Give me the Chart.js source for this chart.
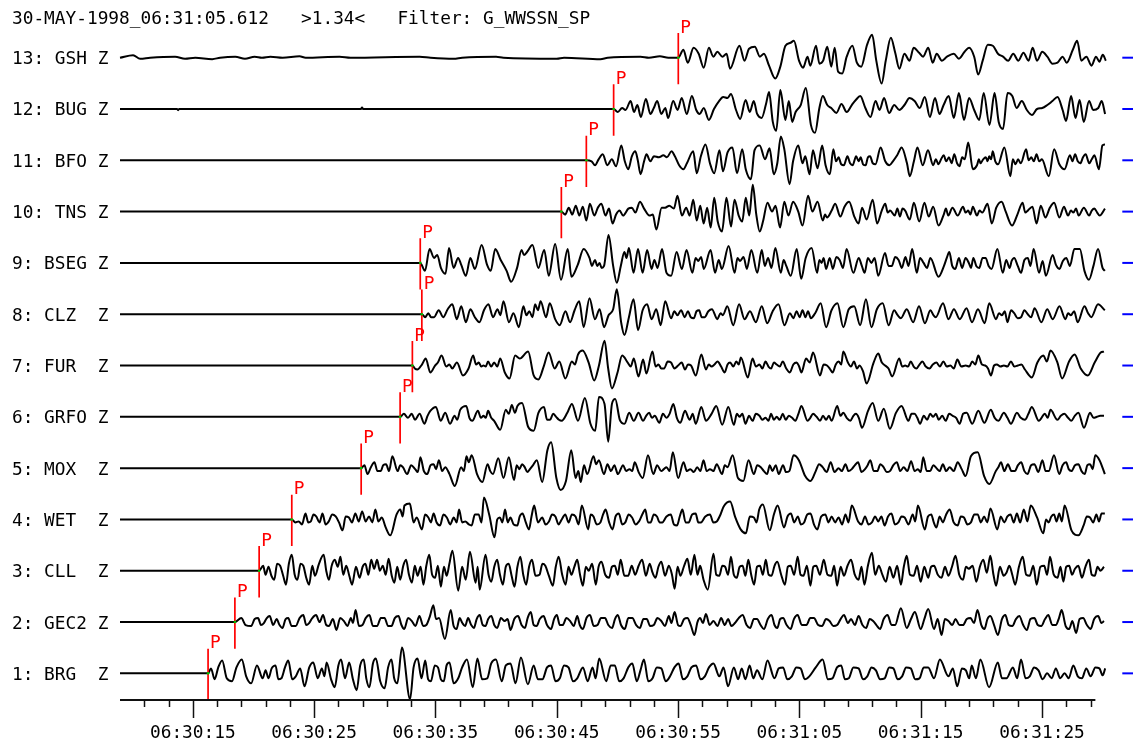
<!DOCTYPE html>
<html><head><meta charset="utf-8">
<script src="https://cdn.jsdelivr.net/npm/chart.js@4.4.1/dist/chart.umd.min.js"></script>
<style>html,body{margin:0;padding:0;background:#fff;}canvas{display:block;}</style>
</head><body>
<canvas id="c" width="1133" height="747"></canvas>
<script>
// ---------- header / labels ----------
const titleText = '30-MAY-1998_06:31:05.612   >1.34<   Filter: G_WWSSN_SP';
const traceNumbers = [1,2,3,4,5,6,7,8,9,10,11,12,13];
const stationNames = ['BRG','GEC2','CLL','WET','MOX','GRFO','FUR','CLZ','BSEG','TNS','BFO','BUG','GSH'];
const componentName = 'Z';
const pickLabel = 'P';
// P arrival picks, seconds after 06:30:00
const pickTimes = [16.26,18.47,20.47,23.16,28.88,32.09,33.10,33.88,33.75,45.38,47.44,49.69,55.02];
// time axis (seconds after 06:30:00)
const timeStart = 9.0;     // start of records / axis
const axisEnd = 89.4;      // end of drawn time axis
const recordEnd = 90.3;    // end of records
const tickSeconds = [11,13,15,17,19,21,23,25,27,29,31,33,35,37,39,41,43,45,47,49,51,53,55,57,59,61,63,65,67,69,71,73,75,77,79,81,83,85,87,89];
const labelSeconds = [15,25,35,45,55,65,75,85];
const GAIN = 51.6; // amplitude counts per trace spacing

// ---------- pre-arrival noise (time, amplitude) ----------
const GSH_pre = [10.08,2.5, 10.66,-1, 11.48,0, 13.54,1, 14.36,-1, 15.2,0, 16.6,-1.5, 17.25,0, 18.5,1, 19.3,-1, 20.1,1, 20.7,0, 21.4,1, 22.4,0, 23.8,1.5, 24.3,0, 27.1,1, 28.0,0, 33.7,1, 34.6,0, 36.5,-1, 37.2,0, 40.0,1, 40.6,0, 45.0,-1, 45.6,0, 48.6,-1.5, 49.2,0, 51.9,1, 52.6,0, 53.5,1.5, 54.2,0];
const BUG_pre = [13.7,0, 13.79,-1.2, 13.88,0, 28.86,0, 28.95,1.5, 29.04,0];

// ---------- waveforms after P (time, amplitude) ----------
const BRG = [16.50,5, 16.80,-6, 17.10,6, 17.42,13, 17.80,-5, 18.23,-8, 18.60,6, 19.04,14, 19.40,-3, 19.81,-10, 20.29,8, 20.76,-5, 21.00,3, 21.24,-5, 21.50,5, 21.82,8, 22.05,-6, 22.30,-5, 22.60,6, 22.87,13, 23.20,-6, 23.49,-3, 23.85,5, 24.21,-13, 24.60,6, 24.93,11, 25.30,-5, 25.64,5, 25.85,-3, 26.03,11, 26.40,-6, 26.70,-14, 27.00,8, 27.22,14, 27.55,-5, 27.89,11, 28.20,-6, 28.51,-17, 28.80,8, 29.09,14, 29.30,-5, 29.56,-14, 29.85,10, 30.09,15, 30.45,-8, 30.81,-15, 31.10,6, 31.38,14, 31.60,-5, 31.86,-10, 32.24,26, 32.91,-26, 33.20,6, 33.53,15, 33.85,-5, 34.16,13, 34.40,-6, 34.63,-8, 34.95,8, 35.21,6, 35.45,-6, 35.69,-8, 35.92,8, 36.16,11, 36.50,-10, 36.88,-5, 37.20,6, 37.60,14, 38.08,-14, 38.46,15, 38.85,-6, 39.27,-5, 39.60,10, 39.99,14, 40.47,-8, 40.80,8, 41.19,10, 41.60,-10, 42.05,16, 42.62,-11, 43.10,8, 43.45,-6, 43.82,-6, 44.20,6, 44.53,8, 44.90,-8, 45.25,-5, 45.60,8, 45.97,6, 46.35,-8, 46.69,-5, 47.16,6, 47.55,-8, 47.95,6, 48.20,-5, 48.50,15, 49.08,-8, 49.45,8, 49.79,8, 50.15,-8, 50.51,-5, 50.90,6, 51.23,10, 51.60,-8, 51.90,3, 52.19,14, 52.55,-8, 52.90,-5, 53.25,6, 53.62,5, 53.98,-8, 54.34,-3, 54.70,6, 55.05,10, 55.40,-6, 55.77,-3, 56.10,6, 56.49,8, 56.85,-6, 57.21,-3, 57.55,6, 57.92,10, 58.40,-3, 58.75,6, 59.12,-13, 59.60,6, 59.95,-6, 60.25,5, 60.55,-6, 60.90,8, 61.20,-5, 61.51,3, 61.95,-6, 62.37,13, 62.95,-5, 63.30,5, 63.66,6, 64.00,-6, 64.38,-3, 64.75,6, 65.10,5, 65.45,-6, 65.82,-3, 66.35,6, 66.92,14, 67.35,-6, 67.73,-5, 68.10,6, 68.45,8, 68.75,-6, 69.07,-5, 69.45,6, 69.88,5, 70.25,-6, 70.60,-3, 70.95,6, 71.31,3, 71.65,-6, 72.03,-5, 72.40,6, 72.75,5, 73.10,-6, 73.47,-3, 73.80,6, 74.18,5, 74.55,-6, 74.90,-5, 75.25,6, 75.62,6, 76.10,-5, 76.58,14, 77.29,-3, 77.65,5, 78.01,-13, 78.40,5, 78.73,3, 79.00,-5, 79.21,8, 79.55,-5, 79.92,14, 80.64,-14, 81.36,11, 81.70,-5, 82.07,-5, 82.60,6, 82.95,-5, 83.27,14, 83.65,-5, 83.99,-3, 84.35,6, 84.71,3, 85.05,-6, 85.42,0, 85.80,-5, 86.14,5, 86.50,-5, 86.86,0, 87.20,-5, 87.58,8, 87.95,-3, 88.29,-5, 88.65,5, 89.01,-3, 89.40,6, 89.73,5, 90.00,-2, 90.21,5];
const GEC2 = [19.00,4, 19.35,-3, 19.81,-4, 20.10,3, 20.38,4, 20.62,-3, 20.86,-1, 21.10,4, 21.34,6, 21.62,-3, 21.91,3, 22.15,-3, 22.39,-6, 22.65,3, 22.87,4, 23.15,-4, 23.49,-4, 23.80,4, 24.11,7, 24.35,-3, 24.59,-1, 24.85,4, 25.16,7, 25.45,0, 25.74,7, 26.00,-3, 26.22,-4, 26.55,3, 26.84,-8, 27.15,4, 27.46,1, 27.75,-4, 28.03,4, 28.20,-1, 28.42,12, 28.70,-4, 28.99,-3, 29.25,4, 29.56,7, 29.85,-4, 30.19,-4, 30.50,4, 30.81,4, 31.10,-4, 31.38,-4, 31.65,4, 31.96,6, 32.20,-3, 32.43,-7, 32.75,4, 33.06,1, 33.35,-4, 33.68,6, 34.00,-4, 34.25,-3, 34.55,6, 34.83,17, 35.05,3, 35.30,4, 35.78,-17, 36.26,12, 36.50,-4, 36.74,-7, 37.00,4, 37.22,-1, 37.45,-4, 37.69,4, 37.95,-3, 38.17,-6, 38.40,3, 38.65,7, 38.90,-3, 39.13,-4, 39.35,3, 39.61,6, 39.85,-3, 40.09,-6, 40.40,4, 40.71,1, 40.95,3, 41.19,-8, 41.50,3, 41.81,6, 42.10,-3, 42.38,-6, 42.60,4, 42.86,10, 43.10,-3, 43.34,-4, 43.60,3, 43.91,6, 44.20,-3, 44.53,-7, 44.78,3, 45.01,7, 45.25,-3, 45.49,-3, 45.80,4, 46.11,1, 46.40,-4, 46.69,6, 46.90,-3, 47.16,-7, 47.45,4, 47.74,7, 48.05,-4, 48.36,-3, 48.65,4, 48.98,4, 49.25,-3, 49.56,-6, 49.80,3, 50.03,7, 50.30,-3, 50.61,-7, 50.90,4, 51.23,4, 51.55,-3, 51.85,-6, 52.15,3, 52.42,3, 52.70,-4, 53.00,-3, 53.30,4, 53.62,1, 53.92,-4, 54.24,6, 54.45,-1, 54.72,10, 55.00,-3, 55.20,-4, 55.50,3, 55.77,4, 56.05,-3, 56.35,-13, 56.60,0, 56.82,4, 57.05,-1, 57.30,8, 57.60,-3, 57.92,1, 58.25,-4, 58.55,4, 58.85,-3, 59.12,3, 59.40,-4, 59.69,-1, 60.00,4, 60.32,7, 60.65,-3, 60.94,-6, 61.25,3, 61.51,3, 61.80,-3, 62.08,-7, 62.40,3, 62.71,7, 62.95,-3, 63.18,-6, 63.42,3, 63.66,4, 63.95,-3, 64.28,-7, 64.55,3, 64.86,7, 65.20,-3, 65.58,-3, 65.90,4, 66.20,4, 66.55,-3, 66.87,-4, 67.20,3, 67.49,1, 67.80,-4, 68.11,-3, 68.40,3, 68.68,7, 69.00,-1, 69.26,3, 69.58,-3, 69.88,6, 70.20,-3, 70.50,-6, 70.80,3, 71.08,1, 71.35,-3, 71.65,-7, 71.95,3, 72.27,7, 72.60,-3, 72.89,-3, 73.37,14, 73.85,-6, 74.20,3, 74.52,10, 75.00,-7, 75.30,3, 75.62,13, 76.10,-7, 76.40,3, 76.72,-13, 77.00,3, 77.29,1, 77.60,-3, 77.87,3, 78.20,-3, 78.49,-3, 78.80,3, 79.11,4, 79.40,-1, 79.68,12, 80.00,-3, 80.26,-7, 80.50,3, 80.74,6, 81.05,-3, 81.36,-13, 81.70,3, 81.98,7, 82.25,-3, 82.55,-4, 82.85,3, 83.13,6, 83.45,-3, 83.75,-8, 84.05,3, 84.37,4, 84.65,-3, 84.94,-4, 85.25,3, 85.52,7, 85.85,-3, 86.14,-3, 86.40,4, 86.62,12, 86.95,-4, 87.24,-7, 87.50,1, 87.81,-11, 88.10,3, 88.39,4, 88.70,-3, 89.01,-7, 89.30,3, 89.63,6, 89.90,-1, 90.11,1];
const CLL = [20.80,5, 21.00,-4, 21.24,4, 21.48,-5, 21.72,-9, 21.95,7, 22.20,5, 22.45,-5, 22.68,-14, 22.92,7, 23.16,16, 23.40,-4, 23.63,-9, 23.88,7, 24.11,5, 24.35,-7, 24.59,-14, 24.85,5, 25.07,-5, 25.40,7, 25.79,16, 26.00,0, 26.22,-9, 26.45,5, 26.70,11, 26.95,4, 27.17,14, 27.40,-4, 27.65,5, 27.90,-5, 28.13,-14, 28.45,4, 28.75,-7, 29.00,4, 29.23,7, 29.47,-4, 29.71,11, 29.95,2, 30.19,11, 30.42,0, 30.66,5, 30.90,-4, 31.14,12, 31.40,-5, 31.62,-12, 31.85,4, 32.10,-9, 32.35,5, 32.58,11, 32.82,-4, 33.06,-12, 33.30,5, 33.53,-5, 33.78,4, 34.01,-14, 34.25,5, 34.49,16, 34.73,-4, 34.97,-7, 35.20,5, 35.45,-16, 35.70,4, 35.93,-5, 36.15,7, 36.40,20, 36.88,-20, 37.20,4, 37.50,-9, 37.84,19, 38.32,-12, 38.48,4, 38.65,-19, 39.13,16, 39.38,-4, 39.61,-11, 39.85,4, 40.09,11, 40.32,-4, 40.56,-14, 40.80,4, 41.04,7, 41.28,-5, 41.52,-16, 41.76,4, 42.00,14, 42.24,-4, 42.48,-14, 42.72,4, 42.96,11, 43.25,-5, 43.58,-4, 43.82,7, 44.06,5, 44.35,-5, 44.68,-15, 44.92,4, 45.16,14, 45.45,-4, 45.73,-14, 45.97,4, 46.21,-4, 46.45,4, 46.69,11, 46.92,-4, 47.16,-15, 47.40,4, 47.64,0, 47.92,7, 48.22,-14, 48.45,4, 48.69,9, 49.00,-4, 49.32,-7, 49.55,4, 49.79,5, 50.03,-4, 50.27,11, 50.58,-5, 50.89,-5, 51.18,5, 51.47,-4, 51.75,5, 52.04,11, 52.35,-5, 52.66,7, 52.90,-2, 53.14,-7, 53.38,4, 53.62,9, 53.93,-5, 54.24,5, 54.50,-4, 54.72,-18, 54.96,4, 55.20,-5, 55.50,5, 55.77,12, 56.05,-4, 56.35,16, 56.60,-4, 56.82,5, 57.10,-9, 57.45,-19, 57.92,17, 58.15,-4, 58.40,-5, 58.65,5, 58.88,4, 59.12,-4, 59.36,14, 59.60,-4, 59.84,-7, 60.08,4, 60.32,5, 60.55,-5, 60.79,11, 61.03,-4, 61.27,-14, 61.51,4, 61.75,5, 61.99,-4, 62.23,11, 62.47,-4, 62.71,-5, 62.95,5, 63.18,9, 63.50,-4, 63.81,-14, 64.05,4, 64.28,5, 64.57,-4, 64.86,14, 65.10,-4, 65.34,-5, 65.62,5, 65.91,-15, 66.15,4, 66.39,5, 66.70,-4, 67.01,11, 67.32,-4, 67.63,-5, 67.87,5, 68.11,-15, 68.40,4, 68.68,-5, 68.97,5, 69.26,11, 69.57,-4, 69.88,-9, 70.12,4, 70.36,-14, 70.65,5, 70.98,18, 71.25,-4, 71.55,5, 71.84,-4, 72.13,-11, 72.44,4, 72.75,-7, 73.06,5, 73.37,-14, 73.61,4, 73.85,15, 74.12,-4, 74.42,-5, 74.70,5, 75.00,-11, 75.30,4, 75.62,-7, 75.86,4, 76.10,5, 76.41,-4, 76.72,-7, 77.00,4, 77.29,-5, 77.58,4, 77.87,15, 78.18,-4, 78.49,-9, 78.73,4, 78.97,2, 79.28,5, 79.59,-11, 79.88,4, 80.16,11, 80.45,-2, 80.74,15, 81.00,-4, 81.22,-15, 81.53,4, 81.84,-5, 82.07,-2, 82.31,5, 82.55,-4, 82.79,-14, 83.10,4, 83.41,14, 83.70,-4, 83.99,-5, 84.28,5, 84.56,-14, 84.87,4, 85.18,5, 85.42,-4, 85.66,14, 85.97,-4, 86.28,-7, 86.52,4, 86.76,-11, 87.00,4, 87.24,5, 87.48,-4, 87.72,2, 88.00,5, 88.29,-7, 88.58,4, 88.87,11, 89.10,-4, 89.35,-5, 89.58,4, 89.82,0, 90.11,4];
const WET = [23.45,-3, 23.73,-2, 24.00,-5, 24.29,6, 24.52,-3, 24.73,-2, 24.95,5, 25.17,3, 25.45,-3, 25.69,6, 25.95,-5, 26.21,-2, 26.50,5, 26.78,3, 27.05,-3, 27.35,-11, 27.60,3, 27.87,2, 28.12,-3, 28.40,6, 28.68,-2, 28.96,8, 29.25,-2, 29.53,3, 29.80,-3, 30.05,10, 30.30,-2, 30.58,2, 30.90,-8, 31.28,-16, 31.80,5, 32.10,10, 32.30,3, 32.45,14, 32.89,16, 33.20,-3, 33.46,2, 33.89,-10, 34.15,5, 34.42,2, 34.62,-3, 34.85,6, 35.10,-3, 35.38,-6, 35.66,5, 35.94,2, 36.22,-5, 36.51,2, 36.75,-3, 36.95,10, 37.20,-3, 37.47,-2, 37.75,-5, 37.99,-6, 38.25,5, 38.56,5, 38.80,-3, 39.00,22, 39.43,5, 39.87,-18, 40.10,0, 40.31,2, 40.52,-3, 40.74,10, 40.96,-3, 41.18,2, 41.45,-5, 41.75,-6, 41.95,3, 42.18,6, 42.45,-3, 42.71,-10, 42.92,3, 43.14,14, 43.45,-3, 43.80,2, 44.08,-5, 44.36,-2, 44.62,5, 44.89,3, 45.15,-5, 45.41,0, 45.70,5, 45.98,-3, 46.25,5, 46.55,3, 46.80,-5, 47.07,14, 47.59,-10, 47.80,5, 48.03,3, 48.30,-5, 48.60,-3, 48.82,5, 49.03,10, 49.32,-3, 49.60,-10, 49.85,3, 50.12,6, 50.40,-5, 50.65,-3, 50.93,5, 51.21,2, 51.50,-5, 51.78,-2, 52.05,5, 52.30,10, 52.52,-3, 52.74,-3, 53.00,5, 53.26,3, 53.48,-3, 53.70,-3, 54.05,3, 54.40,5, 54.66,-5, 54.92,-6, 55.14,3, 55.36,10, 55.62,-3, 55.88,-3, 56.16,5, 56.45,6, 56.67,-3, 56.89,-3, 57.25,3, 57.63,5, 57.91,-3, 58.19,-2, 58.50,5, 58.76,13, 59.29,18, 59.72,2, 60.16,-10, 60.59,-14, 60.92,3, 61.25,2, 61.47,-3, 61.69,10, 61.99,15, 62.56,-11, 62.90,5, 63.21,14, 63.74,-8, 64.02,3, 64.30,6, 64.58,-3, 64.87,3, 65.13,-5, 65.39,-3, 65.65,5, 65.92,6, 66.20,-5, 66.48,-10, 66.80,3, 67.14,5, 67.40,-3, 67.66,3, 67.95,-3, 68.23,2, 68.52,-5, 68.80,5, 69.05,-3, 69.32,14, 69.84,-2, 70.12,-5, 70.41,3, 70.70,-5, 70.98,-3, 71.24,3, 71.50,-2, 71.76,3, 72.03,-6, 72.31,3, 72.59,6, 72.88,-5, 73.16,-3, 73.42,3, 73.68,2, 74.00,-5, 74.34,5, 74.55,-2, 74.77,14, 75.34,-10, 75.60,3, 75.87,5, 76.08,-3, 76.30,-8, 76.56,3, 76.83,-3, 77.10,5, 77.39,10, 77.72,-3, 78.05,-6, 78.31,3, 78.57,2, 78.85,-5, 79.14,-3, 79.42,5, 79.70,5, 79.96,-3, 80.23,3, 80.49,-3, 80.75,11, 81.32,-10, 81.60,3, 81.89,-3, 82.15,3, 82.41,5, 82.67,-3, 82.93,6, 83.20,-3, 83.50,10, 83.80,-2, 84.07,14, 84.59,2, 85.11,-14, 85.33,0, 85.55,-3, 85.77,3, 85.99,5, 86.20,-2, 86.42,6, 86.64,-2, 86.86,14, 87.43,-11, 88.00,-16, 88.43,-6, 88.70,3, 88.96,2, 89.22,-3, 89.48,5, 89.70,-2, 89.91,6, 90.18,6];
const MOX = [29.15,3, 29.40,-6, 29.68,1, 29.97,6, 30.22,-3, 30.49,-3, 30.70,3, 30.93,4, 31.18,-3, 31.45,12, 31.89,-3, 32.10,3, 32.32,1, 32.67,-6, 33.00,3, 33.33,-1, 33.55,-4, 33.76,11, 34.05,-3, 34.33,-6, 34.60,3, 34.85,4, 35.05,-1, 35.29,8, 35.55,-3, 35.81,1, 36.16,-6, 36.60,-18, 37.12,1, 37.35,-3, 37.56,12, 37.75,6, 37.99,13, 38.43,-6, 38.87,-14, 39.30,4, 39.52,-3, 39.74,-6, 40.18,10, 40.61,-10, 41.05,11, 41.48,-12, 41.70,3, 41.92,-1, 42.15,4, 42.36,1, 42.58,-4, 42.79,-1, 43.05,3, 43.36,8, 43.80,-14, 44.23,18, 44.54,26, 44.97,-10, 45.32,-22, 45.76,-13, 46.20,18, 46.55,-10, 46.78,-3, 46.98,-14, 47.25,3, 47.51,-6, 48.03,12, 48.25,4, 48.47,8, 48.90,-6, 49.18,4, 49.47,-3, 49.75,3, 50.04,-6, 50.47,3, 50.72,-3, 51.00,-1, 51.22,-3, 51.43,6, 51.75,-4, 52.09,-10, 52.52,13, 52.96,-6, 53.28,3, 53.61,-3, 53.83,-1, 54.05,1, 54.30,-3, 54.57,16, 55.01,-10, 55.45,6, 55.73,-3, 56.01,-1, 56.30,-4, 56.58,1, 56.84,-3, 57.10,8, 57.36,-3, 57.63,-1, 57.91,-3, 58.19,4, 58.63,-6, 58.85,3, 59.07,1, 59.50,13, 59.94,-10, 60.38,-13, 60.81,8, 61.25,-6, 61.53,3, 61.82,1, 62.08,-3, 62.34,-6, 62.56,3, 62.78,-3, 63.05,3, 63.30,-6, 63.65,3, 63.90,-4, 64.17,-3, 64.52,13, 64.96,8, 65.48,-8, 65.92,-13, 66.35,-3, 66.62,4, 66.92,1, 67.25,-4, 67.58,6, 67.90,-4, 68.23,0, 68.50,-3, 68.80,4, 69.05,-3, 69.32,-1, 69.58,3, 69.84,6, 70.12,-4, 70.41,-1, 70.63,3, 70.85,8, 71.13,-3, 71.42,-3, 71.68,4, 71.94,1, 72.20,-4, 72.46,-3, 72.75,3, 73.03,6, 73.32,-3, 73.60,1, 73.90,-3, 74.21,7, 74.50,-3, 74.77,-1, 75.00,-4, 75.21,11, 75.50,-3, 75.78,-3, 76.04,3, 76.30,0, 76.56,-3, 76.83,4, 77.10,-3, 77.39,1, 77.72,-3, 78.05,6, 78.38,-1, 78.70,-8, 79.14,12, 79.70,16, 80.23,-8, 80.66,-16, 81.19,-3, 81.40,1, 81.62,6, 81.90,-3, 82.19,4, 82.48,-3, 82.76,-3, 83.02,3, 83.28,6, 83.55,-3, 83.81,-6, 84.10,3, 84.37,4, 84.70,-4, 85.03,8, 85.30,-3, 85.55,-3, 85.99,13, 86.42,-6, 86.70,3, 86.99,6, 87.20,-1, 87.43,-3, 87.72,3, 88.00,4, 88.26,-3, 88.52,-6, 88.74,3, 88.96,4, 89.18,-1, 89.39,13, 89.74,8, 90.18,-6];
const GRFO = [32.40,3, 32.74,-1, 33.05,3, 33.32,-3, 33.70,3, 34.09,-7, 34.35,1, 34.58,6, 35.04,10, 35.43,-4, 35.81,4, 36.20,-7, 36.58,1, 36.80,-3, 37.04,7, 37.54,11, 37.80,-1, 38.04,-4, 38.50,6, 38.75,-1, 38.96,1, 39.15,-1, 39.34,6, 39.60,-1, 39.84,-4, 40.34,-13, 40.80,7, 41.05,3, 41.30,12, 41.55,4, 41.76,11, 42.14,14, 42.64,-10, 43.10,-14, 43.49,4, 43.95,10, 44.20,-3, 44.45,-3, 44.70,3, 44.95,0, 45.18,-3, 45.41,-4, 45.87,4, 46.25,13, 46.75,-4, 47.32,19, 47.78,-7, 48.17,-14, 48.48,20, 48.94,13, 49.24,-25, 49.55,13, 49.82,18, 50.20,-3, 50.59,-7, 50.97,4, 51.35,-4, 51.74,4, 52.12,-4, 52.37,1, 52.62,4, 52.85,-1, 53.08,1, 53.46,-6, 53.75,3, 54.04,-1, 54.30,3, 54.61,13, 54.90,-1, 55.19,-6, 55.57,6, 55.96,-3, 56.20,3, 56.46,-7, 56.92,10, 57.30,-4, 57.76,3, 58.15,11, 58.64,-8, 59.14,10, 59.60,-8, 59.85,3, 60.06,0, 60.30,3, 60.56,-7, 60.85,1, 61.14,-4, 61.42,3, 61.71,1, 61.95,-3, 62.21,-1, 62.45,-4, 62.67,3, 62.90,-3, 63.13,0, 63.38,-3, 63.63,3, 63.88,-3, 64.13,1, 64.40,-1, 64.67,-4, 64.92,3, 65.17,11, 65.67,-4, 65.90,-1, 66.13,3, 66.42,0, 66.70,-4, 66.95,1, 67.20,-3, 67.43,1, 67.66,-4, 68.12,11, 68.38,1, 68.62,4, 68.90,-1, 69.20,-4, 69.45,1, 69.66,3, 69.90,-1, 70.16,-11, 70.66,6, 71.04,14, 71.50,-4, 71.96,8, 72.46,-12, 72.96,4, 73.42,11, 73.99,-4, 74.25,3, 74.49,3, 74.72,-1, 74.95,-7, 75.25,1, 75.53,-3, 75.78,3, 76.03,0, 76.26,3, 76.49,-3, 76.78,1, 77.06,-4, 77.35,3, 77.64,1, 77.92,-1, 78.21,-7, 78.50,3, 78.79,4, 79.25,-7, 79.75,6, 80.25,-6, 80.78,7, 81.10,-1, 81.40,-4, 81.86,4, 82.15,-1, 82.44,-7, 82.93,4, 83.25,-1, 83.59,-3, 83.88,3, 84.16,10, 84.74,-4, 85.24,3, 85.47,-1, 85.70,7, 86.27,-3, 86.55,1, 86.85,3, 87.15,-1, 87.42,-4, 87.70,1, 88.00,4, 88.46,-11, 88.96,4, 89.25,-1, 89.53,0, 89.80,1, 90.11,1];
const FUR = [33.30,-3, 33.51,-4, 33.89,1, 34.20,7, 34.58,-7, 34.97,0, 35.20,3, 35.51,10, 35.89,-1, 36.15,1, 36.39,-3, 36.77,3, 37.27,-10, 37.73,-3, 38.11,10, 38.35,1, 38.58,3, 38.78,-1, 38.96,0, 39.15,-1, 39.34,4, 39.60,-1, 39.84,3, 40.10,-1, 40.34,7, 40.72,-7, 41.11,-13, 41.57,10, 41.95,7, 42.64,14, 43.10,-10, 43.49,-14, 43.95,0, 44.33,13, 44.83,-3, 45.21,4, 45.71,-13, 46.25,4, 46.50,1, 46.75,11, 47.13,15, 47.63,3, 48.09,-15, 48.48,0, 48.94,25, 49.24,-3, 49.55,-23, 50.01,-7, 50.39,10, 50.85,3, 51.10,-1, 51.35,7, 51.74,-11, 52.12,6, 52.39,-8, 52.89,14, 53.15,-1, 53.39,1, 53.62,-3, 53.85,-3, 54.15,4, 54.42,3, 54.70,-3, 55.00,0, 55.30,3, 55.57,-4, 55.82,1, 56.07,0, 56.46,-10, 56.92,11, 57.30,-4, 57.53,1, 57.76,-1, 58.00,1, 58.26,4, 58.55,-1, 58.84,-7, 59.08,1, 59.30,3, 59.55,-1, 59.80,4, 60.00,1, 60.18,8, 60.75,-12, 61.14,7, 61.42,-1, 61.71,1, 61.95,-3, 62.21,4, 62.45,-1, 62.67,-3, 62.90,3, 63.13,1, 63.38,-1, 63.63,4, 63.92,-3, 64.21,-7, 64.50,1, 64.78,3, 64.98,-1, 65.17,-7, 65.55,7, 65.85,3, 66.13,13, 66.70,-10, 67.00,1, 67.28,0, 67.50,-3, 67.74,-7, 68.00,1, 68.24,4, 68.45,1, 68.62,14, 69.00,3, 69.25,-1, 69.50,4, 69.75,-3, 69.96,0, 70.25,-6, 70.54,-18, 71.12,3, 71.50,12, 71.80,3, 72.07,0, 72.35,-3, 72.65,-11, 73.23,7, 73.48,-1, 73.72,0, 73.95,-1, 74.18,4, 74.42,-1, 74.65,-3, 74.90,1, 75.14,4, 75.42,-1, 75.72,-3, 76.00,1, 76.29,3, 76.58,-1, 76.87,4, 77.15,-1, 77.45,0, 77.73,-3, 78.02,6, 78.35,-1, 78.71,0, 79.00,-1, 79.25,4, 79.50,1, 79.75,10, 80.05,1, 80.32,0, 80.55,-3, 80.79,-10, 81.05,0, 81.28,1, 81.57,-1, 81.86,0, 82.15,-1, 82.44,4, 82.72,-1, 83.01,0, 83.30,1, 83.59,-4, 84.16,-12, 84.62,3, 85.12,10, 85.40,4, 85.70,15, 86.27,3, 86.66,-13, 87.23,4, 87.69,11, 88.19,-3, 88.77,-10, 89.34,3, 89.84,13, 90.11,14];
const CLZ = [34.15,-3, 34.41,1, 34.65,-3, 34.89,-3, 35.27,4, 35.64,-3, 36.01,5, 36.39,10, 36.76,-5, 37.13,8, 37.51,-8, 37.88,5, 38.25,-3, 38.63,-8, 39.00,4, 39.37,10, 39.75,-3, 40.12,5, 40.35,-1, 40.61,13, 41.06,-8, 41.43,1, 41.88,-13, 42.25,8, 42.50,-1, 42.74,3, 43.00,-3, 43.22,10, 43.45,4, 43.67,13, 44.12,-3, 44.42,11, 44.87,-5, 45.24,-11, 45.72,3, 46.10,-8, 46.47,4, 46.85,13, 47.22,-13, 47.70,16, 48.15,-5, 48.53,5, 48.90,-13, 49.27,-1, 49.65,5, 49.95,25, 50.32,-9, 50.58,-21, 50.95,-3, 51.33,15, 51.70,-16, 52.08,4, 52.45,10, 52.82,-5, 53.20,5, 53.57,-11, 53.94,13, 54.43,-4, 54.70,3, 54.95,-1, 55.25,4, 55.55,-3, 55.81,3, 56.05,-3, 56.30,-4, 56.52,3, 56.74,4, 56.95,-3, 57.19,-3, 57.50,3, 57.79,5, 58.24,-5, 58.50,1, 58.69,-1, 59.06,8, 59.55,-11, 60.03,10, 60.48,-5, 60.93,3, 61.41,-8, 61.90,8, 62.35,-9, 62.80,3, 63.28,10, 63.77,-11, 64.22,1, 64.50,-4, 64.78,3, 65.02,-3, 65.26,4, 65.50,-3, 65.71,3, 65.95,-4, 66.30,1, 66.76,11, 67.20,-13, 67.65,4, 68.14,11, 68.62,-13, 69.07,5, 69.52,8, 70.01,-11, 70.49,15, 70.94,-13, 71.39,5, 71.87,11, 72.36,-11, 72.81,4, 73.10,-1, 73.37,-4, 73.85,5, 74.38,-8, 74.86,8, 75.35,-9, 75.80,4, 76.05,-1, 76.24,-3, 76.84,11, 77.29,-5, 77.74,5, 78.22,-5, 78.78,6, 79.23,-8, 79.72,5, 80.28,-9, 80.65,11, 81.21,-5, 81.45,1, 81.70,-1, 81.93,3, 82.15,-8, 82.45,4, 82.71,1, 83.00,-4, 83.27,-3, 83.55,4, 83.83,0, 84.10,-3, 84.39,6, 84.95,-8, 85.43,5, 85.88,-5, 86.44,8, 86.93,-5, 87.15,1, 87.38,-1, 87.65,3, 87.94,-8, 88.50,8, 88.80,1, 89.06,-3, 89.62,10, 90.18,4];
const BSEG = [34.14,-8, 34.52,14, 34.89,5, 35.15,8, 35.45,-5, 35.83,-11, 36.12,15, 36.50,-5, 36.87,5, 37.13,-2, 37.51,-13, 37.88,5, 38.25,-6, 38.81,18, 39.26,-2, 39.56,-8, 39.93,14, 40.38,3, 40.87,-8, 41.24,-19, 41.73,-5, 42.10,13, 42.30,8, 42.55,11, 43.00,18, 43.48,-5, 43.97,13, 44.34,-13, 44.87,19, 45.35,-17, 45.91,14, 46.21,-14, 46.73,-2, 47.22,14, 47.70,5, 47.90,-3, 48.15,3, 48.35,-3, 48.53,0, 48.70,-5, 48.90,-3, 49.27,28, 49.65,-3, 49.95,-20, 50.28,-3, 50.58,11, 50.75,5, 50.95,15, 51.33,-10, 51.70,14, 52.08,-10, 52.45,13, 52.82,-6, 53.05,3, 53.31,-5, 53.68,14, 54.05,-10, 54.43,-13, 54.88,11, 55.32,-6, 55.70,13, 56.18,-10, 56.45,5, 56.67,2, 56.90,6, 57.12,-6, 57.68,13, 58.05,-10, 58.35,3, 58.61,-6, 59.17,17, 59.66,-10, 59.90,5, 60.11,2, 60.40,6, 60.67,-6, 61.04,13, 61.53,-10, 61.90,13, 62.15,-3, 62.42,5, 62.70,-5, 63.02,15, 63.47,-10, 63.70,3, 63.92,-3, 64.29,-13, 64.78,14, 65.15,-16, 65.52,5, 66.01,15, 66.46,-10, 66.65,3, 66.83,0, 67.00,5, 67.20,-6, 67.50,5, 67.76,-6, 68.05,6, 68.32,3, 68.60,-5, 68.89,14, 69.45,-10, 69.89,5, 70.15,-3, 70.38,-10, 70.65,5, 70.94,0, 71.20,5, 71.50,-13, 72.06,10, 72.35,-3, 72.62,-3, 72.90,6, 73.18,3, 73.45,-5, 73.74,6, 74.00,-3, 74.30,14, 74.68,-10, 74.95,5, 75.24,0, 75.52,-5, 75.80,5, 76.47,-14, 76.92,-3, 77.15,5, 77.36,11, 77.60,-3, 77.85,-6, 78.15,5, 78.41,-5, 78.70,5, 78.97,0, 79.15,-5, 79.34,5, 79.58,-3, 79.83,-5, 80.10,5, 80.35,5, 80.60,-3, 80.84,-6, 81.32,14, 81.77,-10, 82.05,3, 82.33,-5, 82.50,2, 82.71,5, 83.00,-3, 83.27,-10, 83.55,3, 83.83,5, 84.05,-3, 84.31,14, 84.76,-10, 85.05,2, 85.32,-13, 85.88,8, 86.15,-2, 86.44,-6, 86.72,2, 87.00,5, 87.30,-3, 87.67,14, 88.12,14, 88.50,-8, 88.87,-17, 89.24,-3, 89.62,14, 89.99,-5, 90.18,-8];
const TNS = [45.70,-3, 45.99,4, 46.28,-3, 46.57,6, 46.86,-4, 47.15,5, 47.44,-9, 47.73,8, 48.10,-4, 48.39,4, 48.68,8, 49.02,-4, 49.31,3, 49.60,-12, 49.89,-3, 50.18,1, 50.47,-4, 50.90,3, 51.19,4, 51.48,-1, 51.86,10, 52.20,3, 52.64,-4, 52.92,-3, 53.21,-18, 53.65,4, 53.94,4, 54.28,6, 54.66,3, 54.95,16, 55.32,-4, 55.67,4, 55.96,-4, 56.25,12, 56.54,-9, 56.83,6, 57.11,-12, 57.40,4, 57.69,-16, 57.98,14, 58.27,-10, 58.62,-20, 58.99,14, 59.37,-15, 59.65,12, 60.00,-4, 60.29,-10, 60.58,14, 60.87,-4, 61.16,27, 61.45,-3, 61.73,-20, 62.02,-9, 62.37,9, 62.75,0, 63.03,6, 63.41,-16, 63.76,10, 64.10,-4, 64.48,10, 64.91,0, 65.26,-14, 65.72,16, 66.07,0, 66.50,10, 66.93,-9, 67.12,-3, 67.28,-6, 67.66,1, 67.95,8, 68.38,-5, 68.72,5, 69.10,10, 69.53,-5, 69.88,-12, 70.17,4, 70.54,-8, 71.04,12, 71.41,-12, 71.79,1, 72.08,8, 72.28,-1, 72.48,1, 72.86,-4, 73.08,3, 73.29,-5, 73.50,3, 73.72,1, 74.10,-8, 74.44,9, 74.88,-10, 75.31,9, 75.66,-5, 76.03,5, 76.47,-14, 76.90,-3, 77.08,3, 77.27,-4, 77.62,4, 78.05,-4, 78.49,5, 78.70,-1, 78.92,1, 79.10,-3, 79.30,5, 79.64,-4, 79.85,1, 80.08,-1, 80.51,8, 80.86,-12, 81.23,4, 81.67,10, 82.01,0, 82.53,-14, 82.97,-3, 83.40,9, 83.62,-1, 83.83,1, 84.21,5, 84.55,-12, 84.90,6, 85.28,-6, 85.65,4, 86.00,9, 86.43,-6, 86.81,5, 87.15,-4, 87.38,1, 87.59,-1, 87.80,3, 88.02,-4, 88.45,4, 88.89,-4, 89.10,1, 89.32,3, 89.55,-1, 89.75,-4, 90.19,3];
const BFO = [47.87,-1, 48.16,-5, 48.45,1, 48.79,6, 49.17,-5, 49.54,1, 49.89,-6, 50.32,15, 50.61,-1, 50.90,-9, 51.19,4, 51.48,9, 51.68,0, 51.91,-14, 52.20,-1, 52.40,6, 52.72,-1, 53.01,4, 53.42,3, 53.79,5, 54.08,3, 54.46,9, 54.74,4, 55.09,-5, 55.44,-9, 55.73,-3, 56.25,9, 56.54,-13, 56.88,4, 57.26,16, 57.63,-3, 57.98,-13, 58.41,10, 58.70,-11, 59.08,8, 59.48,13, 59.86,-13, 60.29,11, 60.58,-9, 61.01,-19, 61.30,10, 61.73,15, 62.17,1, 62.54,12, 62.89,-14, 63.18,-3, 63.47,24, 63.76,11, 64.19,-24, 64.48,-1, 64.91,15, 65.26,-3, 65.49,4, 65.84,-14, 66.12,10, 66.50,-8, 66.88,15, 67.16,-5, 67.51,-14, 67.80,11, 68.02,-1, 68.23,3, 68.45,-4, 68.67,-5, 68.96,4, 69.18,-3, 69.39,-5, 69.68,4, 69.88,-1, 70.05,3, 70.25,-4, 70.46,-5, 70.65,3, 70.83,4, 71.05,-3, 71.27,-4, 71.70,13, 72.08,-1, 72.42,-5, 72.71,-1, 73.06,5, 73.43,13, 73.87,-3, 74.10,-16, 74.44,-1, 74.73,13, 75.17,-5, 75.60,10, 76.03,-5, 76.25,1, 76.47,-4, 76.68,1, 76.90,5, 77.10,-1, 77.33,3, 77.55,-3, 77.77,6, 78.00,-3, 78.20,-6, 78.42,3, 78.63,1, 78.92,18, 79.30,-9, 79.64,-5, 79.80,1, 79.93,-3, 80.15,1, 80.37,3, 80.51,-1, 80.65,4, 80.80,1, 80.94,9, 81.15,-1, 81.38,-4, 81.90,13, 82.39,-16, 82.60,1, 82.82,-4, 83.03,1, 83.25,-3, 83.69,11, 83.90,0, 84.12,3, 84.33,-1, 84.55,6, 84.77,-1, 84.99,1, 85.56,-16, 86.00,11, 86.43,-4, 86.86,-9, 87.30,5, 87.51,-1, 87.73,6, 87.95,-1, 88.16,-3, 88.38,3, 88.60,6, 88.89,-3, 89.10,1, 89.32,5, 89.69,-9, 89.98,15, 90.19,16];
const BUG = [50.03,-3, 50.39,1, 50.67,-1, 51.09,8, 51.37,-3, 51.65,4, 51.93,-8, 52.35,10, 52.72,-5, 53.00,1, 53.28,8, 53.62,-5, 53.95,1, 54.18,-9, 54.60,8, 54.96,-1, 55.30,11, 55.72,-5, 56.14,13, 56.50,-1, 56.78,-5, 57.12,1, 57.54,-11, 57.96,0, 58.38,8, 58.72,12, 59.08,11, 59.36,15, 59.78,-1, 60.12,-10, 60.57,9, 60.91,-3, 61.24,8, 61.52,-5, 61.89,-9, 62.25,5, 62.50,17, 62.81,-13, 63.09,-22, 63.43,19, 63.85,-11, 64.13,8, 64.41,-13, 64.69,-3, 65.11,4, 65.53,21, 65.95,-16, 66.29,-24, 66.65,1, 66.93,13, 67.30,4, 67.63,1, 68.05,-4, 68.47,5, 68.90,-3, 69.32,4, 69.65,9, 70.02,13, 70.44,1, 70.86,-8, 71.28,8, 71.61,-1, 71.98,11, 72.40,-4, 72.82,4, 73.24,-1, 73.66,4, 74.08,11, 74.50,8, 74.92,1, 75.34,12, 75.76,-8, 76.18,11, 76.55,-5, 76.89,4, 77.31,13, 77.73,-9, 78.15,16, 78.57,-11, 78.99,11, 79.41,-1, 79.83,-11, 80.19,16, 80.67,-16, 81.09,16, 81.43,-13, 81.79,-20, 82.16,16, 82.55,13, 82.91,1, 83.33,8, 83.75,-1, 84.17,-6, 84.59,0, 85.02,1, 85.44,4, 85.86,8, 86.28,12, 86.70,-1, 86.98,-12, 87.40,13, 87.76,-9, 88.10,9, 88.44,-13, 88.88,8, 89.22,-1, 89.64,1, 89.92,8, 90.20,-5];
const GSH = [55.44,8, 55.80,-5, 56.28,10, 56.70,4, 57.12,-10, 57.54,10, 57.91,1, 58.24,6, 58.66,1, 59.00,4, 59.28,-11, 60.06,12, 60.48,-3, 60.85,9, 61.33,11, 61.75,1, 62.08,4, 62.50,-8, 63.01,-21, 63.43,-9, 63.85,12, 64.27,15, 64.55,17, 64.97,-3, 65.31,-10, 65.67,1, 65.90,-8, 66.37,12, 66.65,-6, 66.96,-3, 67.30,11, 67.63,-9, 67.91,10, 68.19,-14, 68.53,-16, 68.90,1, 69.37,12, 69.74,-5, 70.10,-9, 70.58,13, 71.00,23, 71.34,-3, 71.78,-26, 72.12,-3, 72.54,20, 72.90,5, 73.24,-11, 73.66,4, 74.08,-3, 74.42,10, 74.87,5, 75.20,1, 75.62,10, 75.99,-5, 76.32,4, 76.75,-3, 77.17,1, 77.73,4, 78.15,-1, 78.62,6, 78.99,10, 79.41,1, 79.74,-17, 80.11,-3, 80.53,13, 80.95,12, 81.37,4, 81.79,1, 82.21,-3, 82.63,4, 83.05,-3, 83.47,5, 83.89,-3, 84.23,10, 84.59,-3, 85.02,6, 85.44,1, 85.86,-6, 86.28,-5, 86.70,1, 87.03,-5, 87.54,8, 87.90,17, 88.24,-3, 88.66,1, 89.08,-8, 89.45,1, 89.73,-4, 90.01,3, 90.26,-3];

const waveforms = [BRG, GEC2, CLL, WET, MOX, GRFO, FUR, CLZ, BSEG, TNS, BFO, BUG, GSH];
const preEvent = [[],[],[],[],[],[],[],[],[],[],[],BUG_pre,GSH_pre];

// ---------- build datasets ----------
function buildTrace(k) {
  const level = traceNumbers[k];
  const pts = [{x: timeStart, y: level}];
  const pre = preEvent[k];
  for (let j = 0; j < pre.length; j += 2) pts.push({x: pre[j], y: level + pre[j+1] / GAIN});
  pts.push({x: pickTimes[k], y: level});
  const w = waveforms[k];
  for (let j = 0; j < w.length; j += 2) pts.push({x: w[j], y: level + w[j+1] / GAIN});
  return pts;
}
const pickLines = [];
const pickDots = [];
traceNumbers.forEach((n, k) => {
  pickLines.push({x: pickTimes[k], y: n + 0.48}, {x: pickTimes[k], y: n - 0.52}, {x: pickTimes[k], y: null});
  pickDots.push({x: pickTimes[k], y: n});
});

const datasets = [
  {label: 'pickdots', data: pickDots, showLine: false, pointRadius: 1.3, pointBackgroundColor: '#00c000', pointBorderWidth: 0, order: 0, clip: false},
  {label: 'picks', data: pickLines, borderColor: '#ff0000', borderWidth: 1.7, pointRadius: 0, spanGaps: false, order: 1, clip: false}
];
traceNumbers.forEach((n, k) => {
  datasets.push({label: stationNames[k], data: buildTrace(k), borderColor: '#000', borderWidth: 2,
    pointRadius: 0, cubicInterpolationMode: 'monotone', order: 2, clip: false});
});

const FONT = '"DejaVu Sans Mono", monospace';
const FSIZE = 17.8;

const overlay = {
  id: 'overlay',
  beforeDraw(chart) {
    const c = chart.ctx;
    c.save(); c.fillStyle = '#fff'; c.fillRect(0, 0, chart.width, chart.height); c.restore();
  },
  afterDraw(chart) {
    const c = chart.ctx, xs = chart.scales.x, ys = chart.scales.y, area = chart.chartArea;
    c.save();
    c.font = FSIZE + 'px ' + FONT;
    c.fillStyle = '#000';
    c.textAlign = 'left';
    c.textBaseline = 'alphabetic';
    c.fillText(titleText, 12, 24);
    traceNumbers.forEach((n, k) => {
      const y = ys.getPixelForValue(n);
      const lbl = (n + ': ' + stationNames[k]).padEnd(7, ' ') + ' ' + componentName;
      c.fillStyle = '#000';
      c.fillText(lbl, 12, y + 6.5);
      c.fillStyle = '#ff0000';
      c.fillText(pickLabel, xs.getPixelForValue(pickTimes[k]) + 2, y - 25);
      c.strokeStyle = '#0000ff'; c.lineWidth = 2;
      c.beginPath(); c.moveTo(area.right + 16, y); c.lineTo(chart.width, y); c.stroke();
    });
    // time axis line and tick marks
    const x0 = xs.getPixelForValue(timeStart), x1 = xs.getPixelForValue(axisEnd);
    c.strokeStyle = '#111'; c.lineWidth = 2;
    c.beginPath(); c.moveTo(x0, area.bottom); c.lineTo(x1, area.bottom); c.stroke();
    c.lineWidth = 1.5;
    tickSeconds.forEach(v => {
      const x = Math.round(xs.getPixelForValue(v)) + 0.5;
      const len = labelSeconds.includes(v) ? 18 : 7;
      c.beginPath(); c.moveTo(x, area.bottom); c.lineTo(x, area.bottom + len); c.stroke();
    });
    c.restore();
  }
};

function fmtTime(v) {
  const total = 30 * 60 + v;
  const m = Math.floor(total / 60), s = Math.round(total - m * 60);
  return '06:' + String(m).padStart(2, '0') + ':' + String(s).padStart(2, '0');
}

new Chart(document.getElementById('c'), {
  type: 'line',
  data: {datasets},
  plugins: [overlay],
  options: {
    responsive: false, animation: false, devicePixelRatio: 1,
    layout: {padding: {left: 120, right: 26.7, top: 0, bottom: 0}},
    plugins: {legend: {display: false}, tooltip: {enabled: false}},
    scales: {
      x: {
        type: 'linear', min: timeStart, max: recordEnd,
        afterBuildTicks: (s) => { s.ticks = tickSeconds.map(v => ({value: v})); },
        afterFit: (s) => { s.height = 47; },
        ticks: {autoSkip: false, maxRotation: 0, padding: 4.3, color: '#000',
          font: {family: FONT, size: FSIZE},
          callback: (v) => labelSeconds.includes(v) ? fmtTime(v) : ''},
        grid: {display: false, drawTicks: true, tickLength: 18},
        border: {display: false}
      },
      y: {type: 'linear', display: false, min: 13 - (700 - 54) / 51.6, max: 13 + 54 / 51.6}
    }
  }
});
</script>
</body></html>
